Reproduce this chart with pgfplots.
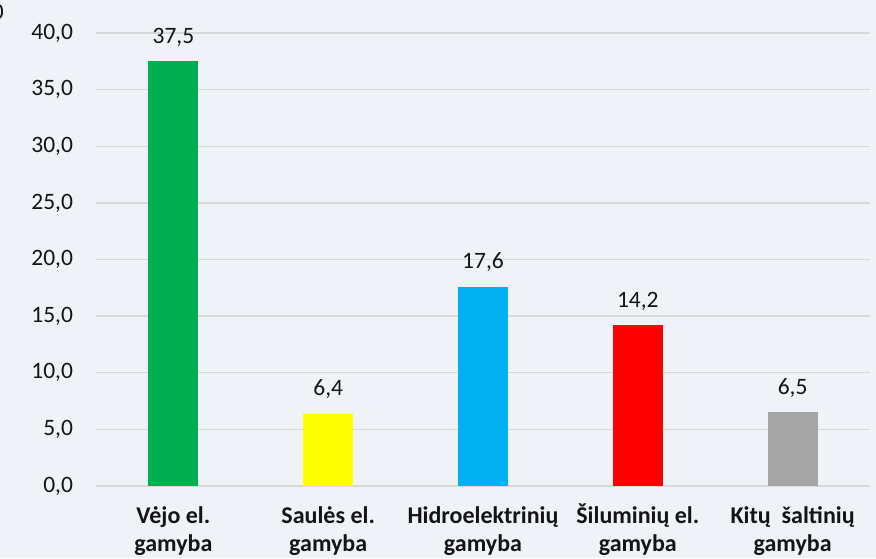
\documentclass[border=0pt]{standalone}
\usepackage{fontspec}
\setmainfont{Carlito}
\usepackage{pgfplots}
\pgfplotsset{compat=1.18}
\definecolor{bg}{RGB}{239,243,247}
\definecolor{gridc}{RGB}{217,217,217}
\definecolor{cgreen}{RGB}{0,176,80}
\definecolor{cyellow}{RGB}{255,255,0}
\definecolor{cblue}{RGB}{0,176,240}
\definecolor{cred}{RGB}{255,0,0}
\definecolor{cgray}{RGB}{165,165,165}
\definecolor{txt}{RGB}{20,20,20}
\newcommand{\st}{\rule{0pt}{21pt}}
\begin{document}
\fontsize{23.5}{28}\selectfont
\begin{tikzpicture}
\fill[bg] (-96pt,-72pt) rectangle (780pt,486pt);
\useasboundingbox (-96pt,-72pt) rectangle (780pt,486pt);
\node[anchor=base east, inner sep=0pt, text=txt] at (-92pt,466pt) {0};
\begin{axis}[
  at={(0pt,0pt)}, anchor=south west,
  scale only axis, width=774pt, height=453pt,
  xmin=-0.5, xmax=4.5, ymin=0, ymax=40,
  ytick={0,5,...,40},
  xtick={0,1,2,3,4},
  xticklabels={{\st Vėjo el.\\gamyba},{\st Saulės el.\\gamyba},{\st Hidroelektrinių\\gamyba},{\st Šiluminių el.\\gamyba},{\st Kitų~~šaltinių\\gamyba}},
  xticklabel style={align=center, font=\fontsize{24}{28.5}\selectfont\bfseries, text=txt, anchor=north, inner sep=0pt, yshift=-16pt},
  yticklabel style={font=\fontsize{23.5}{28}\selectfont, text=txt, xshift=-15pt},
  major tick length=0pt,
  axis x line*=bottom, axis y line*=left,
  x axis line style={draw=gridc, line width=2pt, -},
  y axis line style={draw=none},
  ymajorgrids, grid style={draw=gridc, line width=1.3pt},
  /pgf/number format/use comma,
  /pgf/number format/fixed,
  /pgf/number format/fixed zerofill,
  /pgf/number format/precision=1,
  /pgf/number format/assume math mode=true,
  ybar, bar width=50pt, bar shift=0pt,
  nodes near coords,
  every node near coord/.style={anchor=base, yshift=18pt, font=\fontsize{23.5}{28}\selectfont, text=txt},
  point meta=y,
  clip=false,
]
\addplot[fill=cgreen, draw=none] coordinates {(0,37.5)};
\addplot[fill=cyellow, draw=none] coordinates {(1,6.4)};
\addplot[fill=cblue, draw=none] coordinates {(2,17.6)};
\addplot[fill=cred, draw=none] coordinates {(3,14.2)};
\addplot[fill=cgray, draw=none] coordinates {(4,6.5)};
\end{axis}
\end{tikzpicture}
\end{document}
